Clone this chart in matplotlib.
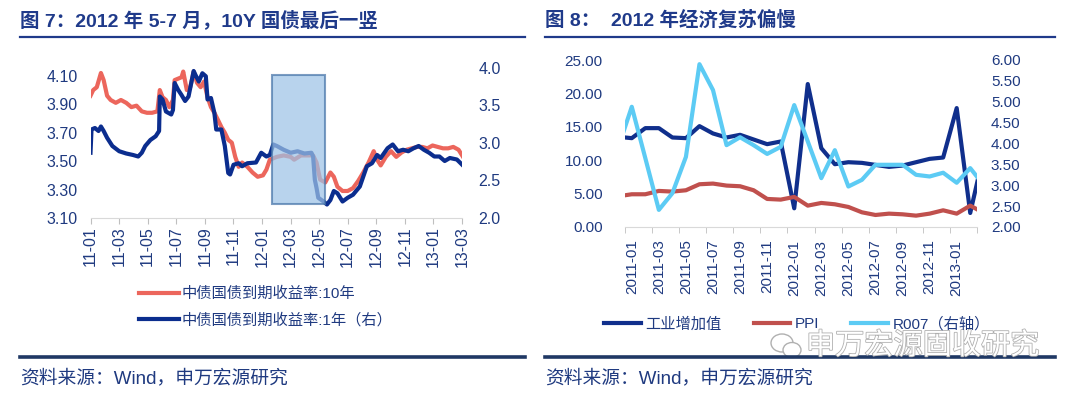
import numpy as np
import pandas as pd
import matplotlib
matplotlib.use('Agg')
import matplotlib.pyplot as plt
import matplotlib.patheffects as pe
from matplotlib.patches import Rectangle, Ellipse
from matplotlib.lines import Line2D
from matplotlib.ticker import FormatStrFormatter, MultipleLocator

plt.rcParams['font.family'] = ['Liberation Sans', 'Noto Sans CJK SC']
plt.rcParams['axes.unicode_minus'] = False

TXT = '#1F3A80'

# ---- 图7 数据（横轴：自 2011-01 起的月数）----
t_10y = [0.00, 0.19, 0.44, 0.73, 0.92, 1.16, 1.41, 1.77, 2.13, 2.50,
         2.86, 3.22, 3.59, 3.95, 4.31, 4.68, 4.85, 5.04, 5.28, 5.52,
         5.77, 5.89, 6.13, 6.37, 6.49, 6.74, 6.98, 7.22, 7.46, 7.71,
         7.95, 8.19, 8.43, 8.67, 8.92, 9.16, 9.40, 9.64, 9.89, 10.13,
         10.37, 10.61, 10.98, 11.34, 11.70, 12.07, 12.31, 12.55, 13.04, 13.52,
         14.01, 14.25, 14.73, 15.22, 15.58, 15.82, 16.07, 16.43, 16.79, 17.03,
         17.28, 17.64, 18.00, 18.37, 18.73, 19.09, 19.46, 19.82, 20.06, 20.31,
         20.67, 21.03, 21.40, 21.76, 22.12, 22.49, 22.85, 23.21, 23.58, 23.94,
         24.30, 24.67, 25.03, 25.39, 25.76, 26.07]
yld_10y = [3.96, 4.00, 4.02, 4.12, 4.07, 3.96, 3.93, 3.91, 3.93, 3.91,
           3.88, 3.89, 3.85, 3.84, 3.84, 3.85, 4.00, 3.95, 3.93, 3.88,
           3.93, 4.07, 4.08, 4.09, 4.13, 4.00, 4.02, 4.13, 4.05, 4.02,
           4.06, 3.95, 3.88, 3.84, 3.79, 3.74, 3.70, 3.65, 3.63, 3.53,
           3.46, 3.49, 3.46, 3.42, 3.39, 3.40, 3.44, 3.51, 3.53, 3.54,
           3.53, 3.51, 3.54, 3.54, 3.54, 3.49, 3.37, 3.35, 3.42, 3.39,
           3.32, 3.29, 3.29, 3.31, 3.36, 3.42, 3.49, 3.57, 3.51, 3.47,
           3.53, 3.57, 3.53, 3.56, 3.58, 3.59, 3.60, 3.60, 3.59, 3.61,
           3.60, 3.59, 3.59, 3.60, 3.58, 3.53]

t_1y = [0.00, 0.07, 0.31, 0.56, 0.73, 0.92, 1.16, 1.53, 2.01, 2.50,
        2.98, 3.34, 3.59, 3.83, 4.19, 4.56, 4.80, 4.85, 5.04, 5.28,
        5.65, 5.77, 5.89, 6.13, 6.37, 6.62, 6.86, 7.22, 7.34, 7.58,
        7.83, 8.07, 8.19, 8.43, 8.67, 8.80, 9.16, 9.40, 9.64, 9.77,
        10.01, 10.37, 10.61, 10.98, 11.58, 11.95, 12.31, 12.55, 12.79, 13.04,
        13.52, 14.01, 14.49, 14.97, 15.46, 15.58, 15.70, 15.82, 15.94, 16.31,
        16.55, 16.79, 17.03, 17.28, 17.64, 18.00, 18.37, 18.85, 19.34, 19.70,
        20.06, 20.31, 20.79, 21.15, 21.52, 21.88, 22.24, 22.61, 22.97, 23.33,
        23.70, 24.06, 24.42, 24.79, 25.15, 25.64, 26.12]
yld_1y = [2.87, 3.18, 3.20, 3.16, 3.22, 3.16, 3.07, 2.96, 2.89, 2.86,
          2.84, 2.82, 2.87, 2.96, 3.04, 3.09, 3.16, 3.62, 3.58, 3.42,
          3.38, 3.44, 3.80, 3.71, 3.64, 3.56, 3.62, 3.96, 3.91, 3.82,
          3.93, 3.89, 3.58, 3.60, 3.40, 3.18, 3.18, 2.96, 2.60, 2.58,
          2.71, 2.73, 2.69, 2.73, 2.74, 2.87, 2.82, 2.84, 2.98, 2.96,
          2.91, 2.87, 2.89, 2.86, 2.87, 2.82, 2.51, 2.40, 2.27, 2.22,
          2.18, 2.24, 2.36, 2.33, 2.22, 2.27, 2.31, 2.42, 2.69, 2.73,
          2.84, 2.80, 2.93, 2.98, 2.89, 2.91, 2.89, 2.93, 2.96, 2.91,
          2.87, 2.82, 2.82, 2.76, 2.80, 2.78, 2.69]

left_xlabels = ['11-01', '11-03', '11-05', '11-07', '11-09', '11-11', '12-01',
                '12-03', '12-05', '12-07', '12-09', '12-11', '13-01', '13-03']
left_yticks = [3.10, 3.30, 3.50, 3.70, 3.90, 4.10]
box_t = [12.72, 16.38]      # 阴影区间（月）
box_y = [3.20, 4.105]       # 阴影区间（10Y 收益率）

# ---- 图8 数据（月度，2010-12 ~ 2013-03）----
months = list(pd.period_range('2010-12', '2013-03', freq='M').strftime('%Y-%m'))
ip = [13.5, 13.3, 14.8, 14.8, 13.4, 13.3, 15.1, 14.0, 13.4, 13.8, 13.1, 12.4, 12.8,
      2.8, 21.4, 11.8, 9.4, 9.7, 9.6, 9.3, 9.0, 9.2, 9.7, 10.2, 10.4,
      17.8, 2.1, 11.0]
ppi = [4.6, 4.9, 4.9, 5.4, 5.3, 5.5, 6.4, 6.5, 6.2, 6.1, 5.5, 4.2, 4.1,
       4.5, 3.2, 3.6, 3.4, 3.0, 2.2, 1.8, 2.0, 1.9, 1.7, 2.0, 2.5,
       2.0, 3.2, 2.1]
r007 = [3.90, 4.88, 3.65, 2.41, 2.81, 3.68, 5.90, 5.28, 3.96, 4.15, 3.96, 3.75, 3.92,
        4.92, 4.05, 3.17, 3.84, 2.97, 3.13, 3.49, 3.49, 3.49, 3.25, 3.21, 3.30,
        3.06, 3.41, 3.00]

W, H = 1080, 396
fig = plt.figure(figsize=(W / 100, H / 100), dpi=100)


def fx(px):
    return px / W


def fy(px):
    return 1 - px / H


def style_axes(ax, axr, size):
    for a in (ax, axr):
        for s in ('top', 'left', 'right'):
            a.spines[s].set_visible(False)
        a.spines['bottom'].set_color('#D9D9D9')
        a.tick_params(axis='y', length=0, labelsize=size, labelcolor=TXT)
    axr.spines['bottom'].set_visible(False)


# ================= 图7 =================
ax1 = fig.add_axes([fx(90.5), fy(218), fx(462 - 90.5), (218 - 68) / H])
ax1r = ax1.twinx()
l10, = ax1.plot(t_10y, yld_10y, color='#EC665C', lw=3, solid_joinstyle='round')
l1, = ax1r.plot(t_1y, yld_1y, color='#0B2D8E', lw=3, solid_joinstyle='round')
ax1r.add_patch(Rectangle((box_t[0], box_y[0]), box_t[1] - box_t[0], box_y[1] - box_y[0],
                         transform=ax1.transData, facecolor='#9DC3E6', alpha=0.72,
                         edgecolor='#4A76AA', lw=1.5, zorder=5))
ax1.set_xlim(0, 26)
ax1.set_ylim(3.10, 4.155)
ax1r.set_ylim(2.0, 4.0)
ax1.set_yticks(left_yticks)
ax1.yaxis.set_major_formatter(FormatStrFormatter('%.2f'))
ax1r.yaxis.set_major_locator(MultipleLocator(0.5))
ax1r.yaxis.set_major_formatter(FormatStrFormatter('%.1f'))
ax1.set_xticks(np.arange(0, 27, 2))
ax1.set_xticklabels(left_xlabels)
style_axes(ax1, ax1r, 11.5)
ax1.tick_params(axis='y', pad=9)
ax1r.tick_params(axis='y', pad=12)
ax1.tick_params(axis='x', length=4, color='#BFBFBF', pad=2, labelrotation=90,
                labelsize=11.5, labelcolor=TXT)

fig.legend([l10, l1], ['中债国债到期收益率:10年', '中债国债到期收益率:1年（右）'],
           loc='upper left', bbox_to_anchor=(fx(139), fy(287)), frameon=False,
           fontsize=11, labelcolor=TXT, handlelength=2.6, handletextpad=0.2,
           labelspacing=0.75, borderpad=0, borderaxespad=0)

# ================= 图8 =================
ax2 = fig.add_axes([fx(625), fy(227), fx(977 - 625), (227 - 60) / H])
ax2r = ax2.twinx()
xi = np.arange(len(months)) - 1
h_ip, = ax2.plot(xi, ip, color='#102F8C', lw=3, solid_joinstyle='round')
h_ppi, = ax2.plot(xi, ppi, color='#C0504D', lw=3, solid_joinstyle='round')
h_r, = ax2r.plot(xi, r007, color='#5CCBF4', lw=3, solid_joinstyle='round')
ax2.set_xlim(-0.5, 25.5)
ax2.set_ylim(0, 25)
ax2r.set_ylim(2, 6)
ax2.yaxis.set_major_locator(MultipleLocator(5))
ax2.yaxis.set_major_formatter(FormatStrFormatter('%.2f'))
ax2r.yaxis.set_major_locator(MultipleLocator(0.5))
ax2r.yaxis.set_major_formatter(FormatStrFormatter('%.2f'))
ax2.set_xticks(np.arange(0, 26, 2))
ax2.set_xticklabels(months[1:26:2])
ax2.set_xticks(np.arange(-0.5, 26, 2), minor=True)
style_axes(ax2, ax2r, 11)
ax2.tick_params(axis='y', pad=16)
ax2r.tick_params(axis='y', pad=10)
ax2.tick_params(axis='x', which='major', length=0, pad=9, labelrotation=90,
                labelsize=11, labelcolor=TXT)
ax2.tick_params(axis='x', which='minor', length=4, color='#BFBFBF')

fig.legend([h_ip, h_ppi, h_r], ['工业增加值', 'PPI', 'R007（右轴）'],
           loc='center left', bbox_to_anchor=(fx(604), fy(324)), ncol=3, frameon=False,
           fontsize=11, labelcolor=TXT, handlelength=2.4, handletextpad=0.3,
           columnspacing=2.1, borderpad=0, borderaxespad=0)

# ================= 标题 / 来源 =================
fig.text(fx(20), fy(20), '图 7：2012 年 5-7 月，10Y 国债最后一竖', fontsize=14,
         fontweight='bold', color='#1F3A8A', va='center', ha='left')
fig.text(fx(545), fy(20), '图 8：  2012 年经济复苏偏慢', fontsize=14,
         fontweight='bold', color='#1F3A8A', va='center', ha='left')
for x0, x1 in ((20, 525), (545, 1055)):
    fig.add_artist(Line2D([fx(x0), fx(x1)], [fy(37), fy(37)], color='#1F3A8A', lw=1.6))
    fig.add_artist(Line2D([fx(x0), fx(x1)], [fy(357), fy(357)], color='#1F3864', lw=2.6))
fig.text(fx(20), fy(378), '资料来源：Wind，申万宏源研究', fontsize=13.5, color=TXT,
         va='center', ha='left')
fig.text(fx(545), fy(378), '资料来源：Wind，申万宏源研究', fontsize=13.5, color=TXT,
         va='center', ha='left')

# 水印
fig.text(fx(806), fy(346), '申万宏源固收研究', fontsize=21, color='white',
         va='center', ha='left',
         path_effects=[pe.withStroke(linewidth=1.2, foreground='#B0B0B0')])
for cx, cy, w, h in ((782, 343, 22, 18), (792, 350, 18, 15)):
    fig.add_artist(Ellipse((fx(cx), fy(cy)), fx(w), h / H, facecolor='white',
                           edgecolor='#B0B0B0', lw=1.0))

fig.savefig('out.png', dpi=100, facecolor='white')
